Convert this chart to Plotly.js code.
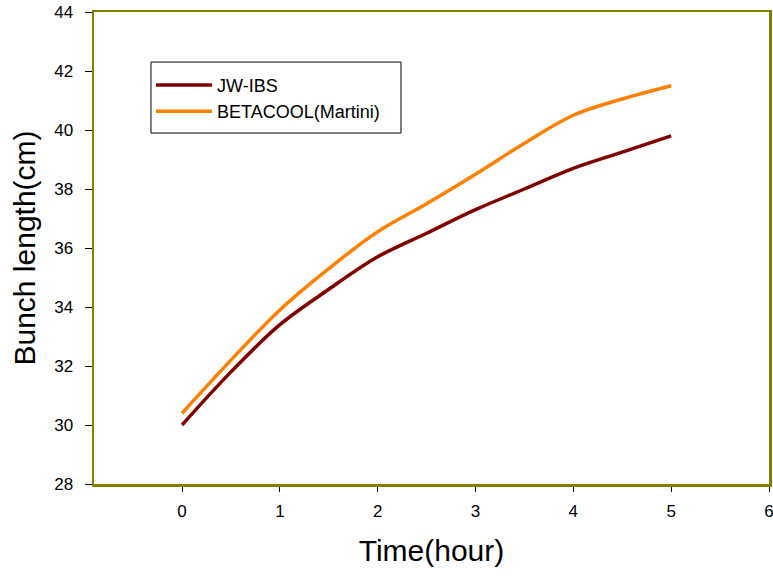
<!DOCTYPE html>
<html>
<head>
<meta charset="utf-8">
<script src="https://cdn.plot.ly/plotly-3.0.1.min.js"></script>
<style>html,body{margin:0;padding:0;background:#fff;}#chart{width:773px;height:578px;}</style>
</head>
<body>
<div id="chart"></div>
<script>
const timeHours = [0, 0.5, 1, 1.5, 2, 2.5, 3, 3.5, 4, 4.5, 5];
const jwIbs = [30.0, 31.8, 33.4, 34.6, 35.7, 36.5, 37.3, 38.0, 38.7, 39.25, 39.8];
const betacool = [30.4, 32.2, 33.9, 35.3, 36.55, 37.5, 38.5, 39.55, 40.5, 41.05, 41.5];
const seriesNames = ["JW-IBS", "BETACOOL(Martini)"];
const xTicks = [0, 1, 2, 3, 4, 5, 6];
const yTicks = [28, 30, 32, 34, 36, 38, 40, 42, 44];

const font = "Arial, 'Liberation Sans', sans-serif";
const traces = [
  {x: timeHours, y: jwIbs, name: seriesNames[0], mode: "lines",
   line: {color: "#800000", width: 3.5, shape: "spline", smoothing: 1}},
  {x: timeHours, y: betacool, name: seriesNames[1], mode: "lines",
   line: {color: "#FF8000", width: 3.5, shape: "spline", smoothing: 1}}
];
const layout = {
  width: 773, height: 578,
  margin: {l: 94, r: 4, t: 12, b: 94},
  paper_bgcolor: "#fff", plot_bgcolor: "#fff",
  font: {family: font, color: "#000", size: 17},
  showlegend: true,
  legend: {x: 0.0844, y: 0.884, xanchor: "left", yanchor: "top",
    borderwidth: 0, bgcolor: "rgba(0,0,0,0)",
    font: {family: font, size: 18}, tracegroupgap: 0, itemwidth: 56},
  shapes: [{type: "rect", xref: "paper", yref: "paper",
    x0: 0.0844, x1: 0.4548, y0: 0.7436, y1: 0.894,
    line: {color: "#000", width: 1}, fillcolor: "rgba(0,0,0,0)", layer: "below"}],
  xaxis: {range: [-0.9, 6], tickvals: xTicks, ticktext: xTicks.map(String),
    showgrid: false, zeroline: false, showline: true, linecolor: "#808000", linewidth: 2.5, mirror: true,
    ticks: "outside", ticklen: 5, tickcolor: "#000", tickwidth: 1,
    tickfont: {family: font, size: 17}, ticklabelstandoff: 5, ticklabeloverflow: "allow",
    title: {text: "Time(hour)", font: {family: font, size: 30}, standoff: 20}},
  yaxis: {range: [28, 44], tickvals: yTicks, ticktext: yTicks.map(String),
    showgrid: false, zeroline: false, showline: true, linecolor: "#808000", linewidth: 2.5, mirror: true,
    ticks: "outside", ticklen: 7, tickcolor: "#000", tickwidth: 1,
    tickfont: {family: font, size: 17}, ticklabelstandoff: 8,
    title: {text: "Bunch length(cm)", font: {family: font, size: 30}, standoff: 10}}
};
Plotly.newPlot("chart", traces, layout, {displayModeBar: false, staticPlot: true});
</script>
</body>
</html>
